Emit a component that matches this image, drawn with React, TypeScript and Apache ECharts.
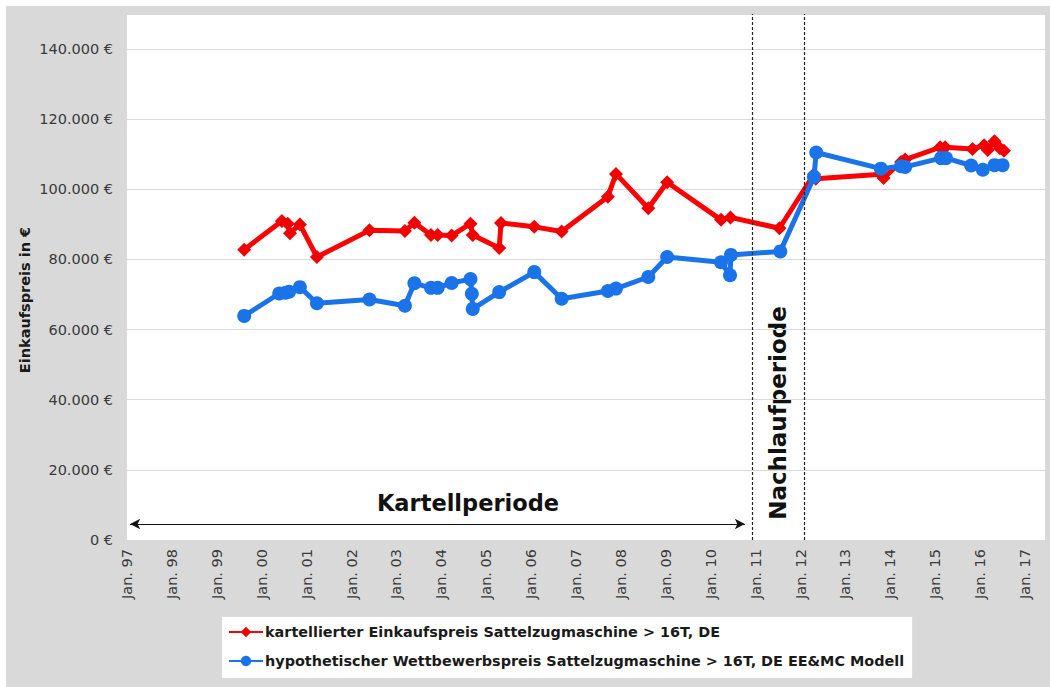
import React, { useEffect, useRef } from "react";
import * as echarts from "echarts";

// Decimal years (Jan = .00) and purchase prices in €
const redYears = [
  1999.61, 2000.45, 2000.58, 2000.63, 2000.85, 2001.23, 2002.4, 2003.19, 2003.4, 2003.77, 2003.92,
  2004.23, 2004.65, 2004.7, 2005.29, 2005.33, 2006.07, 2006.68, 2007.71, 2007.89, 2008.61, 2009.03,
  2010.23, 2010.44, 2011.53, 2012.3, 2012.34, 2013.8, 2013.85, 2014.24, 2014.33, 2015.11, 2015.22,
  2015.83, 2016.09, 2016.17, 2016.32, 2016.44, 2016.53,
];
const redValues = [
  82800, 91000, 90200, 87500, 90000, 80700, 88300, 88100, 90500, 87000, 87000,
  86800, 90200, 87000, 83300, 90400, 89300, 88000, 97900, 104400, 94600, 102000,
  91300, 92000, 88900, 104300, 103000, 104300, 103200, 107800, 108500, 112000, 112000,
  111500, 112600, 111200, 113700, 111700, 111000,
];

const blueYears = [
  1999.61, 2000.39, 2000.53, 2000.61, 2000.85, 2001.23, 2002.4, 2003.19, 2003.4, 2003.77, 2003.92,
  2004.23, 2004.65, 2004.68, 2004.7, 2005.29, 2006.07, 2006.68, 2007.71, 2007.89, 2008.61, 2009.03,
  2010.23, 2010.43, 2010.45, 2011.55, 2012.3, 2012.35, 2013.79, 2014.24, 2014.33, 2015.13, 2015.24,
  2015.8, 2016.06, 2016.32, 2016.5,
];
const blueValues = [
  63900, 70300, 70500, 70800, 72100, 67500, 68600, 66800, 73200, 71900, 71900,
  73300, 74400, 70200, 65900, 70700, 76400, 68800, 71000, 71700, 75000, 80700,
  79200, 75500, 81300, 82300, 103500, 110500, 105900, 106600, 106400, 108900, 108900,
  106800, 105600, 106900, 106900,
];

const seriesNames = [
  "kartellierter Einkaufspreis Sattelzugmaschine > 16T, DE",
  "hypothetischer Wettbewerbspreis Sattelzugmaschine > 16T, DE EE&MC Modell",
];

const periodBounds = [2010.92, 2012.08]; // dashed separators
const cartelArrow = [1997.07, 2010.76, 4560];

const FONT = "DejaVu Sans";

function fmtEuro(v: number): string {
  return String(Math.round(v)).replace(/\B(?=(\d{3})+(?!\d))/g, ".") + " €";
}

export default function App() {
  const ref = useRef<HTMLDivElement>(null);

  useEffect(() => {
    if (!ref.current) return;
    const chart = echarts.init(ref.current, null, { renderer: "svg" });
    const red = redYears.map((x, i) => [x, redValues[i]]);
    const blue = blueYears.map((x, i) => [x, blueValues[i]]);

    chart.setOption({
      animation: false,
      textStyle: { fontFamily: FONT },
      grid: {
        left: 127,
        top: 14,
        right: 5,
        bottom: 147,
        show: true,
        backgroundColor: "#ffffff",
        borderWidth: 0,
      },
      xAxis: {
        type: "value",
        min: 1997,
        max: 2017.445,
        interval: 1,
        axisLine: { show: false },
        axisTick: { show: false },
        splitLine: { show: false },
        axisLabel: {
          rotate: 90,
          margin: 9,
          fontSize: 14.5,
          fontFamily: FONT,
          color: "#3a3a3a",
          formatter: (v: number) =>
            Math.abs(v - Math.round(v)) < 1e-6
              ? "Jan. " + String(Math.round(v) % 100).padStart(2, "0")
              : "",
        },
      },
      yAxis: {
        type: "value",
        min: 0,
        max: 150000,
        interval: 20000,
        axisLine: { show: false },
        axisTick: { show: false },
        splitLine: { lineStyle: { color: "#d9d9d9", width: 1 } },
        axisLabel: {
          margin: 14,
          fontSize: 14.5,
          fontFamily: FONT,
          color: "#3a3a3a",
          formatter: (v: number) => (v > 140000 ? "" : fmtEuro(v)),
        },
      },
      legend: {
        data: seriesNames,
        orient: "vertical",
        left: 222,
        top: 617,
        padding: [8, 8, 10, 6],
        itemGap: 15,
        itemWidth: 34,
        itemHeight: 13,
        backgroundColor: "#ffffff",
        textStyle: { fontFamily: FONT, fontSize: 14.4, fontWeight: "bold", color: "#1a1a1a", padding: [0, 0, 0, -3] },
      },
      graphic: [
        {
          type: "text",
          x: 25,
          y: 300,
          rotation: Math.PI / 2,
          style: {
            text: "Einkaufspreis in €",
            font: `bold 14.5px "${FONT}"`,
            fill: "#1a1a1a",
            align: "center",
            verticalAlign: "middle",
          },
        },
        {
          type: "text",
          x: 468,
          y: 503,
          style: {
            text: "Kartellperiode",
            font: `bold 22.5px "${FONT}"`,
            fill: "#111111",
            align: "center",
            verticalAlign: "middle",
          },
        },
        {
          type: "text",
          x: 778,
          y: 413,
          rotation: Math.PI / 2,
          style: {
            text: "Nachlaufperiode",
            font: `bold 23px "${FONT}"`,
            fill: "#111111",
            align: "center",
            verticalAlign: "middle",
          },
        },
      ],
      series: [
        {
          name: seriesNames[0],
          type: "line",
          data: red,
          symbol: "diamond",
          symbolSize: 14,
          color: "#ff0000",
          lineStyle: { width: 5, color: "#ff0000" },
          itemStyle: { color: "#f00000" },
          z: 2,
          markLine: {
            silent: true,
            symbol: ["none", "none"],
            label: { show: false },
            lineStyle: { color: "#222222", type: [3, 2], width: 1.2 },
            data: [
              { xAxis: periodBounds[0] },
              { xAxis: periodBounds[1] },
              [
                {
                  coord: [cartelArrow[0], cartelArrow[2]],
                  symbol: "arrow",
                  symbolSize: [8, 10],
                  lineStyle: { color: "#111111", type: "solid", width: 1.2 },
                },
                { coord: [cartelArrow[1], cartelArrow[2]], symbol: "arrow", symbolSize: [8, 10] },
              ],
            ],
          },
        },
        {
          name: seriesNames[1],
          type: "line",
          data: blue,
          symbol: "circle",
          symbolSize: 14,
          color: "#1a73e8",
          lineStyle: { width: 5, color: "#1a73e8" },
          itemStyle: { color: "#1a73e8" },
          z: 3,
        },
      ],
    });
    return () => chart.dispose();
  }, []);

  return (
    <div style={{ position: "fixed", left: 0, top: 0, width: 1050, height: 687, background: "#ffffff" }}>
      <div style={{ position: "absolute", left: 6, top: 6, right: 0, bottom: 0, background: "#d9d9d9" }} />
      <div ref={ref} style={{ position: "absolute", left: 0, top: 0, width: 1050, height: 687 }} />
    </div>
  );
}
